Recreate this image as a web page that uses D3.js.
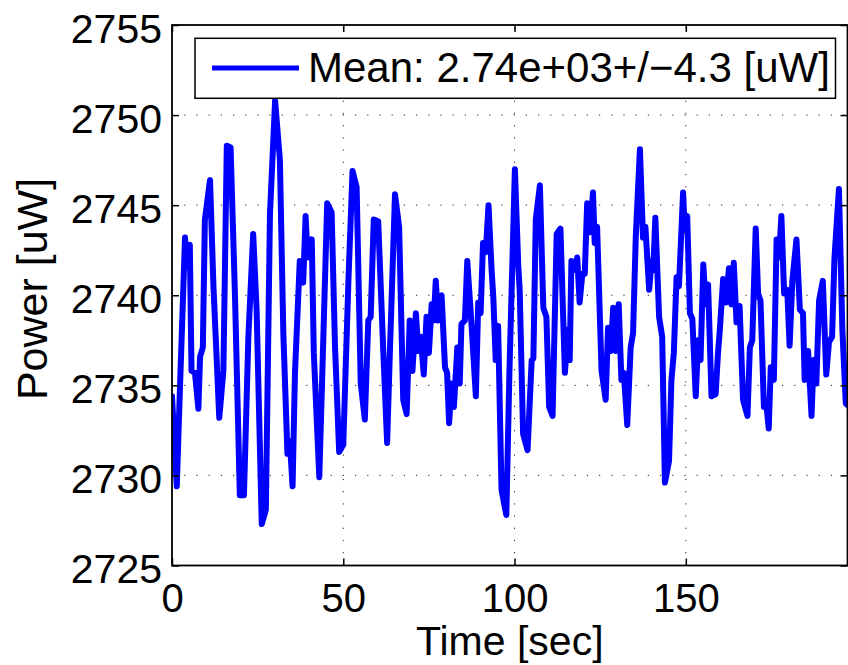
<!DOCTYPE html>
<html><head><meta charset="utf-8">
<script src="https://cdn.jsdelivr.net/npm/d3@7"></script>
<style>
body{margin:0;background:#fff}
svg{display:block}
text{font-family:"Liberation Sans",Arial,Helvetica,sans-serif;fill:#000}
</style>
</head><body>
<svg id="chart" width="848" height="665"></svg>
<script>
// ---- data ----
const timeSec = [0,1.4,2.3,3.8,4.3,5.2,5.7,6.7,7.7,8.2,9.0,9.6,11.1,12.1,13.8,15.0,16.0,17.1,18.4,19.8,21.0,22.3,23.7,24.7,26.2,27.4,28.6,30.1,31.5,32.5,33.7,34.4,35.2,35.9,37.3,38.3,39.0,39.6,40.8,41.4,43.0,43.9,45.3,46.6,47.6,48.8,50.0,51.5,52.7,53.9,55.1,56.3,57.3,58.0,58.9,60.2,61.7,62.8,63.6,65.1,66.3,67.5,68.5,69.4,70.2,71.2,71.9,72.6,73.5,74.3,75.0,75.8,76.4,77.0,77.7,78.7,79.7,80.3,80.9,81.6,82.3,83.3,84.0,84.5,85.5,86.2,87.5,88.7,89.4,90.1,90.8,91.6,92.4,93.3,93.8,94.5,95.2,96.2,97.6,98.5,100.1,101.1,101.5,102.5,103.8,105.0,105.5,106.2,107.4,108.4,109.3,110.1,111.1,112.3,113.4,114.7,115.6,116.1,116.6,117.6,118.3,119.0,119.8,120.5,121.2,122.0,122.9,123.4,124.1,125.4,126.6,127.3,128.1,128.8,129.6,130.4,131.2,131.9,132.9,133.9,134.6,135.4,136.6,137.5,138.2,139.3,140.0,140.5,141.1,142.2,143.1,143.9,145.1,145.8,146.5,147.3,148.0,149.2,149.7,150.4,151.2,151.9,152.9,153.6,154.3,155.1,155.8,156.5,157.5,158.7,159.4,159.9,160.9,161.7,162.6,163.3,164.0,164.8,165.7,166.7,168.0,168.7,169.4,170.4,171.1,171.8,172.8,173.5,174.2,174.8,175.7,176.5,177.2,177.9,178.7,179.6,180.3,181.1,182.3,183.3,184.2,184.7,185.7,186.7,187.3,188.1,188.9,190.0,191.0,191.8,192.7,193.4,194.7,195.7,196.7,197.2];
const powerUW = [2734.4,2729.4,2734.7,2743.2,2741.6,2742.8,2735.8,2735.7,2733.7,2736.6,2737.1,2744.2,2746.4,2740.5,2733.2,2735.8,2748.3,2748.2,2739.9,2728.9,2728.9,2737.7,2743.4,2739.2,2727.3,2728.1,2744.5,2750.8,2747.5,2737.9,2731.2,2731.9,2729.4,2735.7,2741.9,2740.7,2744.4,2742.1,2743.1,2736.8,2729.9,2735.8,2745.1,2744.6,2737.1,2731.3,2731.7,2740.8,2746.9,2746.0,2735.1,2733.1,2738.6,2738.8,2744.2,2744.1,2736.8,2731.8,2736.8,2745.6,2743.8,2734.2,2733.4,2738.6,2735.8,2739.0,2736.9,2737.7,2735.6,2738.8,2736.8,2739.5,2738.6,2740.8,2738.6,2740.0,2736.0,2735.7,2732.9,2735.1,2733.8,2737.1,2735.1,2738.4,2738.6,2741.9,2738.2,2734.4,2739.6,2739.0,2742.9,2742.4,2745.0,2741.4,2739.9,2736.4,2738.3,2729.2,2727.8,2735.7,2747.0,2741.6,2740.3,2732.3,2731.4,2736.4,2736.5,2744.2,2746.1,2739.3,2738.8,2733.8,2733.3,2743.4,2743.7,2735.7,2738.1,2736.4,2741.9,2741.4,2742.1,2739.6,2741.2,2741.2,2745.1,2743.5,2745.7,2742.9,2743.8,2735.8,2734.2,2738.2,2736.9,2739.3,2736.9,2739.5,2735.3,2735.7,2732.8,2737.1,2737.9,2743.3,2748.1,2743.2,2743.8,2740.3,2741.9,2741.4,2744.3,2738.8,2737.7,2729.6,2730.8,2735.3,2736.8,2741.0,2740.5,2745.7,2743.6,2744.4,2739.0,2738.7,2734.4,2737.5,2736.4,2741.7,2739.5,2740.6,2734.4,2734.5,2736.8,2738.0,2740.9,2739.6,2741.5,2739.5,2741.8,2738.5,2739.4,2734.2,2733.3,2737.1,2737.5,2743.7,2740.1,2739.7,2733.8,2734.0,2732.6,2736.0,2735.3,2743.1,2742.1,2744.4,2740.1,2740.3,2737.2,2740.8,2743.1,2739.2,2739.0,2735.3,2736.9,2733.3,2736.4,2735.1,2739.7,2740.8,2735.6,2737.4,2737.7,2742.1,2745.9,2738.1,2734.0,2733.9];
const xTickValues = [0, 50, 100, 150];
const yTickValues = [2725, 2730, 2735, 2740, 2745, 2750, 2755];
const xDomain = [0, 197.2];
const yDomain = [2725, 2755];
const xLabel = "Time [sec]";
const yLabel = "Power [uW]";
const legendLabel = "Mean: 2.74e+03+/\u22124.3 [uW]";

// ---- layout ----
const L = 172, T = 25, R = 847.5, B = 565.5;
const svg = d3.select("#chart");
const x = d3.scaleLinear().domain(xDomain).range([L, R]);
const y = d3.scaleLinear().domain(yDomain).range([B, T]);

// grid
const grid = svg.append("g").attr("stroke", "#222").attr("stroke-width", 1)
  .attr("stroke-dasharray", "1.2,11");
grid.selectAll(".gx").data(xTickValues.filter(d => d > xDomain[0] && d < xDomain[1]))
  .join("line").attr("x1", d => x(d)).attr("x2", d => x(d)).attr("y1", B).attr("y2", T);
grid.selectAll(".gy").data(yTickValues.filter(d => d > yDomain[0] && d < yDomain[1]))
  .join("line").attr("y1", d => y(d)).attr("y2", d => y(d)).attr("x1", L).attr("x2", R);

// data line
svg.append("clipPath").attr("id", "clip").append("rect")
  .attr("x", L).attr("y", T).attr("width", R - L).attr("height", B - T);
const pts = timeSec.map((t, i) => [t, powerUW[i]]);
svg.append("path").datum(pts)
  .attr("clip-path", "url(#clip)")
  .attr("fill", "none").attr("stroke", "#0000ff").attr("stroke-width", 6)
  .attr("stroke-linejoin", "round").attr("stroke-linecap", "round")
  .attr("d", d3.line().x(d => x(d[0])).y(d => y(d[1])));

// axes
const fs = 40;
const ax = svg.append("g").attr("transform", `translate(0,${B})`)
  .call(d3.axisBottom(x).tickValues(xTickValues).tickSizeInner(-7).tickSizeOuter(0).tickPadding(18).tickFormat(d3.format("d")));
const axT = svg.append("g").attr("transform", `translate(0,${T})`)
  .call(d3.axisTop(x).tickValues(xTickValues).tickSizeInner(-7).tickSizeOuter(0).tickFormat(""));
const ay = svg.append("g").attr("transform", `translate(${L},0)`)
  .call(d3.axisLeft(y).tickValues(yTickValues).tickSizeInner(-7).tickSizeOuter(0).tickPadding(10).tickFormat(d3.format("d")));
const ayR = svg.append("g").attr("transform", `translate(${R},0)`)
  .call(d3.axisRight(y).tickValues(yTickValues).tickSizeInner(-7).tickSizeOuter(0).tickFormat(""));
[ax, axT, ay, ayR].forEach(g => {
  g.select(".domain").remove();
  g.selectAll(".tick line").attr("stroke", "#000").attr("stroke-width", 1.5);
  g.selectAll("text").attr("font-size", fs).attr("font-family", null);
  g.attr("font-family", null);
});
ay.selectAll("text").attr("dy", "0.42em").attr("font-size", 41);
ax.selectAll("text").attr("dy", "0.71em");

// box
svg.append("rect").attr("x", L).attr("y", T).attr("width", R - L).attr("height", B - T)
  .attr("fill", "none").attr("stroke", "#000").attr("stroke-width", 1.8);

// labels
svg.append("text").attr("x", (L + R) / 2).attr("y", 655).attr("text-anchor", "middle")
  .attr("font-size", 41).text(xLabel);
svg.append("text").attr("transform", `translate(47,289) rotate(-90)`)
  .attr("text-anchor", "middle").attr("font-size", 43).text(yLabel);

// legend
const lg = svg.append("g");
lg.append("rect").attr("x", 195).attr("y", 38.3).attr("width", 640.5).attr("height", 60)
  .attr("fill", "#fff").attr("stroke", "#000").attr("stroke-width", 1.5);
lg.append("line").attr("x1", 212).attr("x2", 299).attr("y1", 68).attr("y2", 68)
  .attr("stroke", "#0000ff").attr("stroke-width", 5);
lg.append("text").attr("x", 308).attr("y", 82).attr("font-size", 42).text(legendLabel);
</script>
</body></html>
